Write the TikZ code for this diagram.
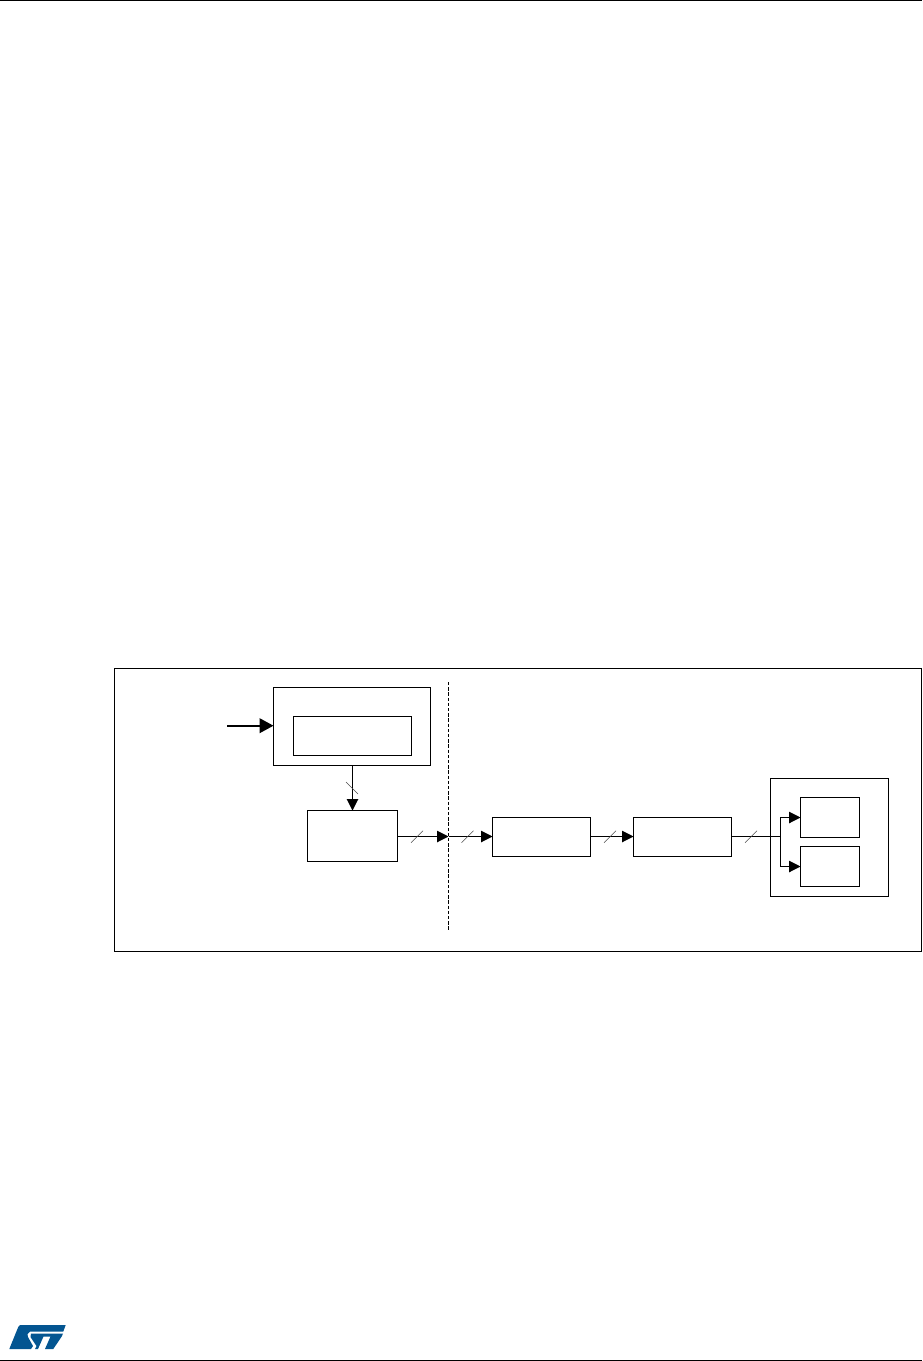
\documentclass[tikz,border=0pt]{standalone}
\usetikzlibrary{arrows.meta}
\definecolor{stblue}{RGB}{3,85,145}
\tikzset{
  x=0.75pt,y=-0.75pt,
  wire/.style={line width=0.75pt,-{Triangle[length=8.6pt,width=8.6pt]}},
  thickwire/.style={line width=1.5pt,-{Triangle[length=10.5pt,width=11pt]}},
  plainwire/.style={line width=0.75pt},
  frame/.style={draw,line width=0.75pt,rectangle,inner sep=0pt,outer sep=0pt,minimum width=#1*0.75pt},
  tall/.style={minimum height=#1*0.75pt},
  rule/.style={line width=0.9pt},
  tickline/.style={line width=0.4pt,draw=black!70},
}
\newcommand{\slashmark}[1]{\draw[tickline] ([shift={(-6,6)}]#1) -- ([shift={(6,-6)}]#1);}
\begin{document}
\begin{tikzpicture}
\useasboundingbox (0,0) rectangle (922,1361);
\fill[white] (0,0) rectangle (922,1361);
% page rules
\coordinate (rtl) at (0,0.6); \coordinate (rtr) at (922,0.6);
\coordinate (rbl) at (0,1360.4); \coordinate (rbr) at (922,1360.4);
\draw[rule] (rtl) -- (rtr);
\draw[rule] (rbl) -- (rbr);
% boxes
\node[frame=807,tall=282.5] (outer) at (518,809.75) {};
\node[frame=157,tall=78] (reg) at (352,726.5) {};
\node[frame=118,tall=39] (inner) at (352.5,736) {};
\node[frame=90,tall=51] (src) at (352.5,836) {};
\node[frame=98,tall=39] (bx3) at (541.5,837) {};
\node[frame=98,tall=39] (bx4) at (682.5,837) {};
\node[frame=118,tall=118] (group) at (829.5,837.5) {};
\node[frame=59,tall=40] (out1) at (830,817.5) {};
\node[frame=59,tall=40] (out2) at (830,866.5) {};
% free ends
\coordinate (inl) at (227,725.7);
\coordinate (dashtop) at (448.5,682);
\coordinate (dashbot) at (448.5,930);
\coordinate (cross) at (448.5,836.5);
\coordinate (branch) at (780.5,836.5);
% connectors
\draw[thickwire] (inl) -- (inl -| reg.west);
\draw[wire] (reg.south -| inner.south) -- (src.north);
\draw[wire] (src.east |- cross) -- (cross);
\draw[wire] (cross) -- (bx3.west |- cross);
\draw[wire] (bx3.east |- cross) -- (bx4.west |- cross);
\draw[plainwire] (bx4.east |- cross) -- (branch);
\draw[wire] (branch) |- (out1.west);
\draw[wire] (branch) |- (out2.west);
\draw[line width=0.75pt,dash pattern=on 2.6pt off 1.3pt] (dashtop) -- (dashbot);
% bus ticks
\coordinate (t1) at (417,836.7);
\coordinate (t2) at (467.5,836.7);
\coordinate (t3) at (610,836.7);
\coordinate (t4) at (751,836.7);
\slashmark{t1}\slashmark{t2}\slashmark{t3}\slashmark{t4}
\coordinate (t5) at (352,788);
\draw[tickline] ([shift={(-6,-6)}]t5) -- ([shift={(6,6)}]t5);
% ST logo
\fill[stblue] (20,1325) -- (65.7,1325) -- (63.3,1331.5) -- (30,1331.5) -- (27.5,1334) -- (28,1337) -- (33,1346) -- (31,1349) -- (9.3,1349) -- (17,1330) .. controls (18,1327) and (19,1325.5) .. (20,1325) -- cycle;
\fill[stblue] (31,1333.5) -- (63,1333.5) -- (61.7,1336.5) -- (53.3,1349) -- (45,1349) -- (50.5,1336.5) -- (43.5,1336.5) -- (38,1349) -- (35,1349) -- (36.5,1346) -- (30.5,1337) -- cycle;
\end{tikzpicture}
\end{document}
